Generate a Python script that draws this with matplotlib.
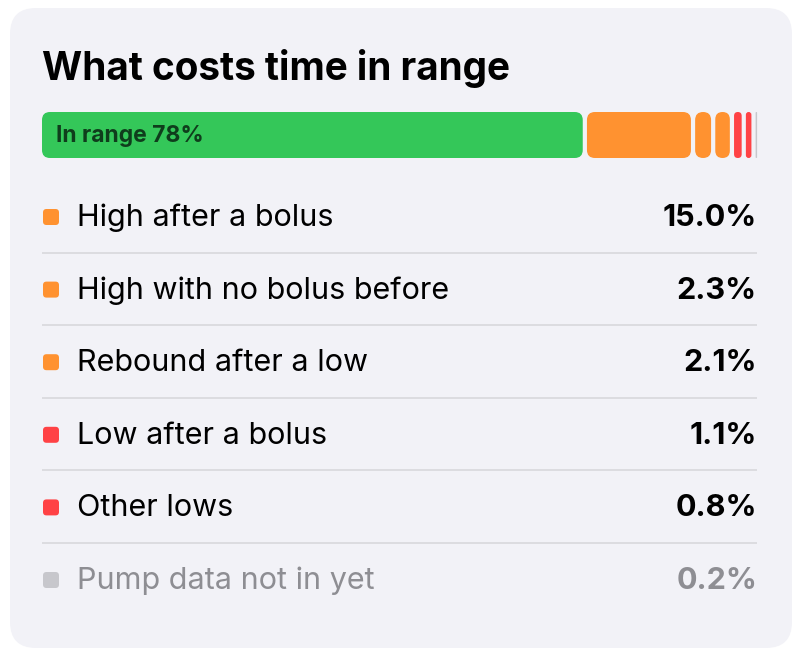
import numpy as np
import matplotlib.pyplot as plt
from matplotlib.patches import FancyBboxPatch

plt.rcParams['font.family'] = ['Inter', 'DejaVu Sans']

# data
title = "What costs time in range"
in_range = 78
labels = ["High after a bolus", "High with no bolus before", "Rebound after a low",
          "Low after a bolus", "Other lows", "Pump data not in yet"]
values = [15.0, 2.3, 2.1, 1.1, 0.8, 0.2]
kinds = ["high", "high", "high", "low", "low", "missing"]

colors = {"in": "#34C759", "high": "#FF9230", "low": "#FF4245", "missing": "#C7C7CC"}
text_colors = {"high": "#000000", "low": "#000000", "missing": "#8E8E93"}

fig = plt.figure(figsize=(8, 6.57), dpi=100)
ax = fig.add_axes([0, 0, 1, 1])
ax.set_xlim(0, 800)
ax.set_ylim(657, 0)
ax.axis('off')
fig.patch.set_facecolor('white')

# card
card = FancyBboxPatch((10, 8), 782, 640, boxstyle="round,pad=0,rounding_size=26",
                      fc="#F2F2F7", ec="none")
ax.add_patch(card)

ax.text(42, 80, title, fontsize=27.9, fontweight='bold', color='black', va='baseline')

# stacked bar
x0, x1 = 42, 757
bar_top, bar_h = 112, 46
gap = 4.2
seg_vals = [in_range] + values
seg_cols = [colors["in"]] + [colors[k] for k in kinds]
scale = (x1 - x0 - gap * (len(seg_vals) - 1)) / sum(seg_vals)
x = x0
for v, c in zip(seg_vals, seg_cols):
    w = max(v * scale, 1.5)
    r = min(8, w / 2)
    ax.add_patch(FancyBboxPatch((x, bar_top), w, bar_h,
                                boxstyle=f"round,pad=0,rounding_size={r}",
                                fc=c, ec="none"))
    x += w + gap

ax.text(56, bar_top + bar_h / 2 + 1, f"In range {in_range}%", fontsize=16.5,
        fontweight='bold', color='#0F3D1C', va='center')

# rows
row_y0, row_step = 217, 72.6
for i, (lab, v, k) in enumerate(zip(labels, values, kinds)):
    y = row_y0 + i * row_step
    ax.add_patch(FancyBboxPatch((43, y - 8), 16, 16, boxstyle="round,pad=0,rounding_size=3.5",
                                fc=colors[k], ec="none"))
    ax.text(77, y + 1, lab, fontsize=22, color=text_colors[k], va='center')
    ax.text(757, y + 1, f"{v:.1f}%", fontsize=22, fontweight='bold',
            color=text_colors[k], va='center', ha='right')
    if i < len(labels) - 1:
        ax.plot([42, 757], [y + 35.5, y + 35.5], color='#D8D8DC', lw=1.2,
                solid_capstyle='butt')

fig.savefig("out.png", dpi=100)
